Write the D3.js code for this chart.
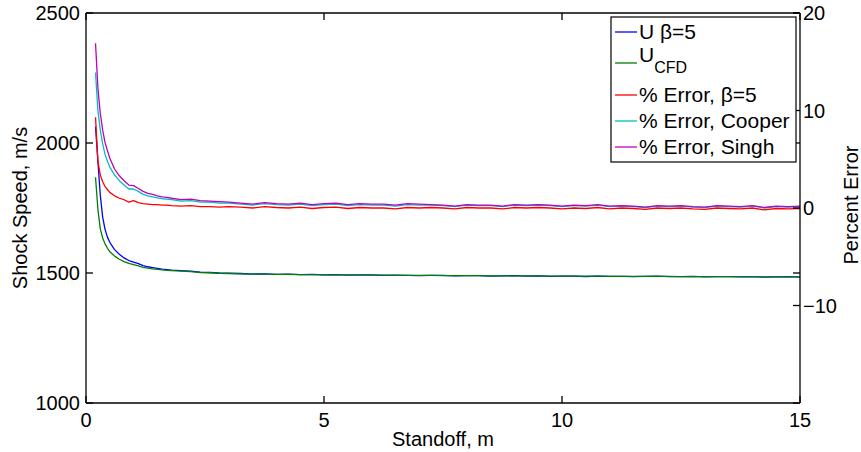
<!DOCTYPE html>
<html><head><meta charset="utf-8">
<script src="https://cdn.jsdelivr.net/npm/d3@7"></script>
<style>
html,body{margin:0;padding:0;background:#fff;}
svg{display:block;}
text{font-family:"Liberation Sans",Arial,Helvetica,sans-serif;fill:#000;}
</style></head>
<body><svg id="c" width="861" height="452"></svg>
<script>
// ---- data ----
const standoff = [0.2,0.25,0.3,0.35,0.4,0.45,0.5,0.6,0.7,0.8,0.9,1.0,1.1,1.2,1.3,1.4,1.5,1.6,1.7,1.8,2.0,2.2,2.4,2.6,2.8,3.0,
  3.25,3.5,3.75,4.0,4.25,4.5,4.75,5.0,5.25,5.5,5.75,6.0,6.25,6.5,6.75,7.0,7.25,7.5,7.75,8.0,8.25,8.5,8.75,9.0,
  9.25,9.5,9.75,10.0,10.25,10.5,10.75,11.0,11.25,11.5,11.75,12.0,12.25,12.5,12.75,13.0,13.25,13.5,13.75,14.0,14.25,14.5,14.75,15.0];
const uBeta5 = [2063,1930,1800,1715,1668,1638,1618,1590,1572,1558,1548,1542,1536,1528,1524,1521,1518,1515,1513,1511,1509,1507,1503,1502,1500,1499,
  1498,1496,1497,1495,1496,1494,1495,1493,1494,1492,1493,1493,1491,1492,1491,1490,1491,1491,1489,1490,1490,1488,1489,1490,1488,1489,1487,1488,1488,1486,1488,1487,1487,1486,1487,1488,1486,1486,1487,1485,1486,1486,1485,1486,1484,1485,1486,1484];
const uCFD = [1868,1745,1670,1635,1612,1595,1582,1565,1553,1544,1537,1532,1527,1522,1519,1516,1514,1512,1510,1509,1507,1505,1502,1501,1499,1498,
  1497,1496,1496,1495,1495,1494,1494,1493,1493,1493,1492,1492,1492,1491,1491,1491,1491,1490,1490,1490,1490,1489,1489,1489,1489,1489,1488,1488,1488,1488,1488,1487,1487,1487,1487,1487,1487,1486,1486,1486,1486,1486,1486,1486,1485,1485,1485,1485];
const errBeta5 = [9.3,4.8,3.4,2.7,2.2,1.9,1.6,1.25,1.0,0.85,0.6,0.75,0.55,0.45,0.4,0.35,0.35,0.3,0.3,0.25,0.2,0.25,0.15,0.15,0.1,0.15,
  0.1,0.0,0.15,0.05,0.0,0.1,-0.05,0.05,0.1,-0.05,0.05,0.0,0.0,-0.1,0.05,0.0,0.05,0.0,-0.1,0.05,0.0,0.0,-0.1,0.05,0.0,0.05,0.0,-0.1,0.0,-0.05,0.05,-0.1,0.0,-0.05,-0.15,0.0,-0.05,0.0,-0.1,-0.15,0.0,-0.05,-0.1,0.0,-0.2,-0.05,-0.1,-0.05];
const errCooper = [13.9,10.0,8.0,6.6,5.5,4.8,4.2,3.4,2.8,2.35,1.95,1.95,1.7,1.4,1.25,1.15,1.05,0.95,0.9,0.85,0.7,0.75,0.6,0.6,0.5,0.5,
  0.4,0.3,0.45,0.35,0.3,0.4,0.25,0.35,0.4,0.25,0.35,0.3,0.3,0.2,0.35,0.3,0.3,0.25,0.15,0.3,0.25,0.25,0.15,0.3,0.25,0.3,0.25,0.15,0.25,0.2,0.3,0.15,0.2,0.15,0.05,0.2,0.15,0.2,0.1,0.05,0.2,0.15,0.1,0.2,0.0,0.15,0.1,0.15];
const errSingh = [16.9,12.3,9.7,8.0,6.7,5.9,5.1,4.0,3.3,2.8,2.35,2.3,2.0,1.7,1.5,1.4,1.25,1.15,1.1,1.0,0.85,0.9,0.75,0.7,0.65,0.6,
  0.5,0.4,0.55,0.45,0.4,0.5,0.35,0.45,0.5,0.35,0.45,0.4,0.4,0.3,0.45,0.4,0.35,0.3,0.2,0.35,0.3,0.3,0.2,0.35,0.3,0.35,0.3,0.2,0.3,0.25,0.35,0.2,0.25,0.2,0.1,0.25,0.2,0.25,0.15,0.1,0.25,0.2,0.15,0.25,0.05,0.2,0.15,0.2];
const xTicks = [0,5,10,15];
const yLeftTicks = [1000,1500,2000,2500];
const yRightTicks = [-10,0,10,20];
const legendLabels = ["U \u03b2=5","U_CFD","% Error, \u03b2=5","% Error, Cooper","% Error, Singh"];
const colors = ["#0000ff","#008000","#ff0000","#00bfbf","#bf00bf"];

// ---- layout ----
const L=86,R=800,T=13,B=403;
const svg=d3.select("#c");
const x=d3.scaleLinear().domain([0,15]).range([L,R]);
const yL=d3.scaleLinear().domain([1000,2500]).range([B,T]);
const yR=d3.scaleLinear().domain([-20,20]).range([B,T]);
const FS=20, LFS=21, TL=7;

svg.append("defs").append("clipPath").attr("id","clip").append("rect")
  .attr("x",L).attr("y",T).attr("width",R-L).attr("height",B-T);

const series=[
  {v:uBeta5,s:yL,c:colors[0]},
  {v:uCFD,s:yL,c:colors[1]},
  {v:errBeta5,s:yR,c:colors[2]},
  {v:errCooper,s:yR,c:colors[3]},
  {v:errSingh,s:yR,c:colors[4]}
];
const g=svg.append("g").attr("clip-path","url(#clip)");
series.forEach(sr=>{
  const line=d3.line().x((d,i)=>x(standoff[i])).y(d=>sr.s(d));
  g.append("path").datum(sr.v).attr("d",line).attr("fill","none")
   .attr("stroke",sr.c).attr("stroke-width",1.3).attr("stroke-linejoin","round");
});

// axes frame
const ax=svg.append("g").attr("stroke","#000").attr("stroke-width",1.3).attr("fill","none");
ax.append("line").attr("x1",L).attr("x2",R).attr("y1",B).attr("y2",B);
ax.append("line").attr("x1",L).attr("x2",R).attr("y1",T).attr("y2",T);
ax.append("line").attr("x1",L).attr("x2",L).attr("y1",T).attr("y2",B);
ax.append("line").attr("x1",R).attr("x2",R).attr("y1",T).attr("y2",B);

// x ticks (bottom + top, inward)
xTicks.forEach(t=>{
  ax.append("line").attr("x1",x(t)).attr("x2",x(t)).attr("y1",B).attr("y2",B-TL);
  ax.append("line").attr("x1",x(t)).attr("x2",x(t)).attr("y1",T).attr("y2",T+TL);
  svg.append("text").attr("x",x(t)).attr("y",427).attr("text-anchor","middle")
    .style("font-size",FS+"px").text(d3.format("d")(t));
});
// left ticks (mirrored on right)
yLeftTicks.forEach(t=>{
  ax.append("line").attr("x1",L).attr("x2",L+TL).attr("y1",yL(t)).attr("y2",yL(t));
  ax.append("line").attr("x1",R).attr("x2",R-TL).attr("y1",yL(t)).attr("y2",yL(t));
  svg.append("text").attr("x",80).attr("y",yL(t)).attr("dy","0.36em").attr("text-anchor","end")
    .style("font-size",FS+"px").text(t);
});
// right ticks
yRightTicks.forEach(t=>{
  ax.append("line").attr("x1",R).attr("x2",R-TL).attr("y1",yR(t)).attr("y2",yR(t));
  svg.append("text").attr("x",803).attr("y",yR(t)).attr("dy","0.36em").attr("text-anchor","start")
    .style("font-size",FS+"px").text(t<0?"\u2212"+Math.abs(t):t);
});

// axis labels
svg.append("text").attr("transform","translate(27,208) rotate(-90)").attr("text-anchor","middle")
  .style("font-size",FS+"px").text("Shock Speed, m/s");
svg.append("text").attr("transform","translate(858,205) rotate(-90)").attr("text-anchor","middle")
  .style("font-size",FS+"px").text("Percent Error");
svg.append("text").attr("x",443).attr("y",446).attr("text-anchor","middle")
  .style("font-size",FS+"px").text("Standoff, m");

// legend
const lg=svg.append("g");
lg.append("rect").attr("x",611).attr("y",17).attr("width",185).attr("height",145)
  .attr("fill","#fff").attr("stroke","#000").attr("stroke-width",1.2);
const ly=[32,63,95,121,147];
legendLabels.forEach((lab,i)=>{
  lg.append("line").attr("x1",615).attr("x2",637).attr("y1",ly[i]).attr("y2",ly[i])
    .attr("stroke",colors[i]).attr("stroke-width",1.3);
  const tx=lg.append("text").attr("x",639).style("font-size",LFS+"px");
  if(lab.indexOf("_")>=0){
    const parts=lab.split("_");
    tx.attr("y",ly[i]-1);
    tx.append("tspan").text(parts[0]);
    tx.append("tspan").attr("dy",11).style("font-size","16px").text(parts[1]);
  } else {
    tx.attr("y",ly[i]+7).text(lab);
  }
});
</script></body></html>
